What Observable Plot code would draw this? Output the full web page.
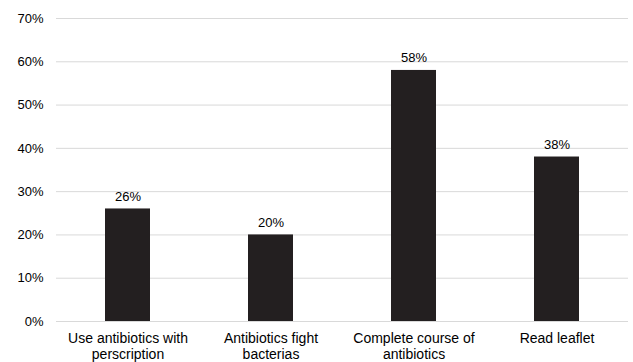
<!DOCTYPE html>
<html>
<head>
<meta charset="utf-8">
<script src="https://cdn.jsdelivr.net/npm/d3@7"></script>
<script src="https://cdn.jsdelivr.net/npm/@observablehq/plot@0.6"></script>
<style>
  html, body { margin: 0; padding: 0; background: #fff; }
  #chart svg { display: block; }
</style>
</head>
<body>
<div id="chart"></div>
<script>
// Survey answers: share of respondents per statement
const categories = [
  "Use antibiotics with perscription",
  "Antibiotics fight bacterias",
  "Complete course of antibiotics",
  "Read leaflet"
];
const tickLabels = [
  "Use antibiotics with\nperscription",
  "Antibiotics fight\nbacterias",
  "Complete course of\nantibiotics",
  "Read leaflet"
];
const values = [0.26, 0.20, 0.58, 0.38];
const yTicks = [0, 0.1, 0.2, 0.3, 0.4, 0.5, 0.6, 0.7];

const data = categories.map((c, i) => ({category: c, value: values[i]}));
const labelOf = new Map(categories.map((c, i) => [c, tickLabels[i]]));
const pct = d3.format(".0%");

const chart = Plot.plot({
  width: 633,
  height: 362,
  marginLeft: 56,
  marginRight: 5,
  marginTop: 18,
  marginBottom: 41,
  style: {fontFamily: "'Liberation Sans', Arial, sans-serif", fontSize: "13px", color: "#000", background: "#fff"},
  x: {domain: categories, paddingInner: 0.685, paddingOuter: 0.3425, label: null},
  y: {domain: [0, 0.7], label: null},
  marks: [
    Plot.gridY(yTicks, {stroke: "#d9d9d9", strokeOpacity: 1, strokeWidth: 1}),
    Plot.axisY({ticks: yTicks, tickFormat: pct, tickSize: 0, tickPadding: 13, fontSize: 13, label: null}),
    Plot.axisX({tickSize: 0, tickPadding: 10, fontSize: 14, lineHeight: 1.15, tickFormat: d => labelOf.get(d), label: null}),
    Plot.barY(data, {x: "category", y: "value", fill: "#231f20"}),
    Plot.text(data, {x: "category", y: "value", text: d => pct(d.value), lineAnchor: "bottom", dy: -8, fontSize: 13, fill: "#000"})
  ]
});

document.getElementById("chart").appendChild(chart);
</script>
</body>
</html>
